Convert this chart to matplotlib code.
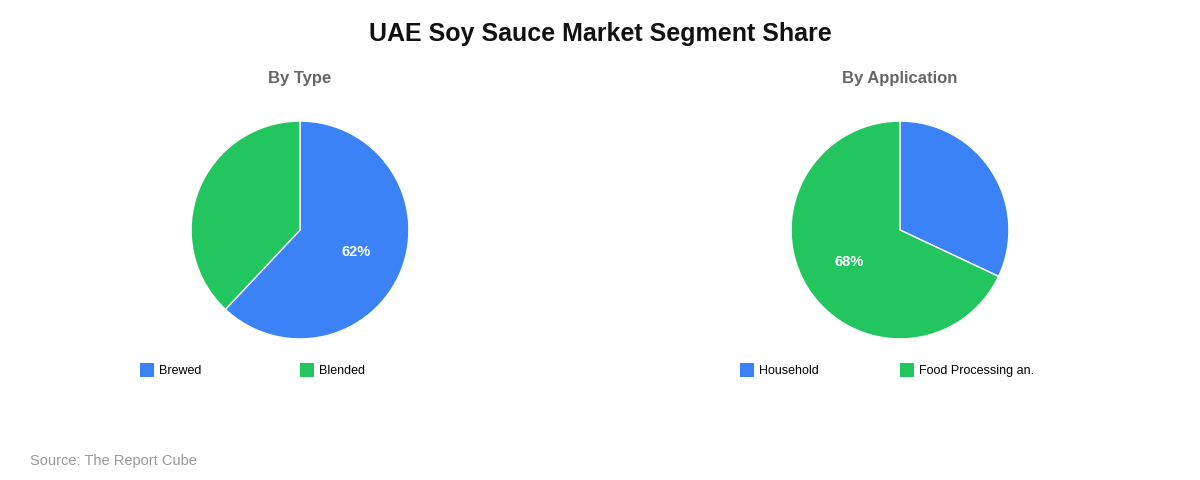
import matplotlib.pyplot as plt
from matplotlib.patches import Patch

plt.rcParams['font.family'] = ['Liberation Sans', 'DejaVu Sans']

title = 'UAE Soy Sauce Market Segment Share'
source = 'Source: The Report Cube'

type_labels = ['Brewed', 'Blended']
type_values = [62, 38]

app_labels = ['Household', 'Food Processing an.']
app_values = [32, 68]

colors = ['#3B82F6', '#22C55E']

W, H = 1200, 480
fig = plt.figure(figsize=(12, 4.8), dpi=100)
fig.text(0.5, 1 - 34 / H, title, ha='center', va='center', fontsize=18,
         fontweight='bold', color='#111111')
fig.text(30 / W, 1 - 461 / H, source, ha='left', va='center', fontsize=10.5,
         color='#999999')


def draw_pie(cx, subtitle, labels, values):
    r = 110
    ax = fig.add_axes([(cx - r) / W, 1 - (230 + r) / H, 2 * r / W, 2 * r / H])
    wedges, texts, autotexts = ax.pie(
        values, colors=colors, startangle=90, counterclock=False, radius=1,
        wedgeprops=dict(edgecolor='white', linewidth=1),
        autopct=lambda p: f'{p:.0f}%' if p > 50 else '', pctdistance=0.55,
        textprops=dict(color='white', fontsize=10.5, fontweight='bold'))
    ax.set_xlim(-1.01, 1.01)
    ax.set_ylim(-1.01, 1.01)
    ax.set_aspect('equal')
    ax.axis('off')
    fig.text(cx / W, 1 - 78 / H, subtitle, ha='center', va='center',
             fontsize=12, fontweight='bold', color='#666666')
    for i, (lab, col) in enumerate(zip(labels, colors)):
        fig.legend(handles=[Patch(facecolor=col, edgecolor='none')], labels=[lab],
                   loc='center left',
                   bbox_to_anchor=((cx - 160 + 160 * i) / W, 1 - 370 / H),
                   frameon=False, fontsize=9, handlelength=1.1, handleheight=1.4,
                   handletextpad=0.45, borderpad=0, borderaxespad=0)


draw_pie(300, 'By Type', type_labels, type_values)
draw_pie(900, 'By Application', app_labels, app_values)

fig.savefig('out.png', dpi=100, facecolor='white')
